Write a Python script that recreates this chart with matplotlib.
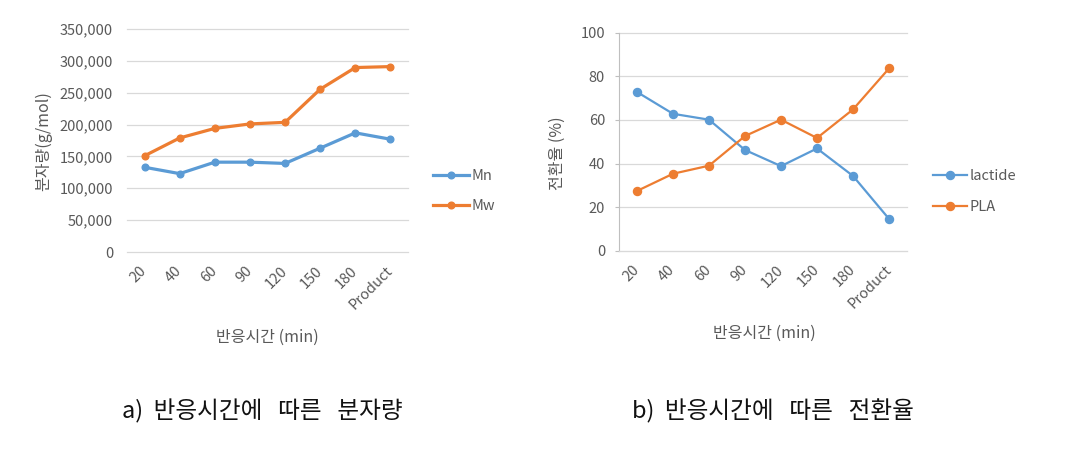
import matplotlib
matplotlib.use("Agg")
import matplotlib.pyplot as plt
from matplotlib.ticker import FuncFormatter

plt.rcParams['font.family'] = ['Noto Sans CJK KR', 'DejaVu Sans']

categories = ["20", "40", "60", "90", "120", "150", "180", "Product"]
mn = [133000, 123000, 141000, 141000, 139000, 163000, 187000, 177000]
mw = [151000, 179000, 194000, 201000, 203500, 255500, 289500, 291000]
lactide = [72.8, 62.8, 60.1, 46.2, 38.8, 46.9, 34.3, 14.6]
pla = [27.4, 35.3, 39.0, 52.6, 60.1, 51.7, 64.8, 83.6]

BLUE = "#5B9BD5"
ORANGE = "#ED7D31"
GRID = "#D9D9D9"
TXT = "#595959"

W, H = 1077, 449
fig = plt.figure(figsize=(W / 100, H / 100), dpi=100)

def fx(px):
    return px / W

def fy(py):
    return 1 - py / H

# ---- left chart ----
ax1 = fig.add_axes([fx(127), fy(252), fx(408) - fx(127), fy(29) - fy(252)])
x = list(range(len(categories)))
ax1.plot(x, mn, color=BLUE, lw=2.3, marker='o', ms=4.8, label="Mn")
ax1.plot(x, mw, color=ORANGE, lw=2.3, marker='o', ms=4.8, label="Mw")
ax1.set_ylim(0, 350000)
ax1.set_yticks(range(0, 350001, 50000))
ax1.yaxis.set_major_formatter(FuncFormatter(lambda v, p: f"{int(v):,}"))
ax1.set_xlim(-0.5, len(categories) - 0.5)
ax1.grid(axis='y', color=GRID, lw=0.9)
ax1.set_axisbelow(True)
for s in ax1.spines.values():
    s.set_visible(False)
ax1.tick_params(axis='y', length=0, pad=10, labelsize=10.5, labelcolor=TXT)

# ---- right chart ----
ax2 = fig.add_axes([fx(619), fy(250.7), fx(907) - fx(619), fy(32.7) - fy(250.7)])
ax2.plot(x, lactide, color=BLUE, lw=1.6, marker='o', ms=5.8, label="lactide")
ax2.plot(x, pla, color=ORANGE, lw=1.6, marker='o', ms=5.8, label="PLA")
ax2.set_ylim(0, 100)
ax2.set_yticks(range(0, 101, 20))
ax2.set_xlim(-0.5, len(categories) - 0.5)
ax2.grid(axis='y', color=GRID, lw=0.9)
ax2.set_axisbelow(True)
for k in ['top', 'right']:
    ax2.spines[k].set_visible(False)
ax2.spines['left'].set_color("#BFBFBF")
ax2.spines['bottom'].set_color(GRID)
ax2.tick_params(axis='y', length=3, color="#BFBFBF", pad=7, labelsize=10.5, labelcolor=TXT)

for ax in (ax1, ax2):
    ax.set_xticks(x)
    ax.set_xticklabels(categories)
    ax.tick_params(axis='x', length=0, pad=12, labelsize=10.5, labelcolor=TXT)
    for lab in ax.get_xticklabels():
        lab.set_rotation(45)
        lab.set_ha('right')
        lab.set_va('center')
        lab.set_rotation_mode('anchor')
    for gl in ax.get_ygridlines():
        gl.set_clip_on(False)

# axis labels
fig.text(fx(267), fy(337), "반응시간 (min)", ha='center', va='center', fontsize=11.5, color=TXT)
fig.text(fx(764), fy(333), "반응시간 (min)", ha='center', va='center', fontsize=11.5, color=TXT)
fig.text(fx(44), fy(141), "분자량(g/mol)", ha='center', va='center', rotation=90, fontsize=11.5, color=TXT)
fig.text(fx(557), fy(153), "전환율 (%)", ha='center', va='center', rotation=90, fontsize=11.5, color=TXT)

# legends
leg1 = ax1.legend(loc='center left', bbox_to_anchor=(fx(433), fy(191)), bbox_transform=fig.transFigure,
                  frameon=False, borderpad=0, borderaxespad=0, handlelength=2.45, handletextpad=0.2,
                  labelspacing=1.15, fontsize=10.5)
leg2 = ax2.legend(loc='center left', bbox_to_anchor=(fx(933), fy(191.5)), bbox_transform=fig.transFigure,
                  frameon=False, borderpad=0, borderaxespad=0, handlelength=2.3, handletextpad=0.2,
                  labelspacing=1.15, fontsize=10.5)
for leg in (leg1, leg2):
    for t in leg.get_texts():
        t.set_color(TXT)

# captions
fig.text(fx(122), fy(411), "a)  반응시간에   따른   분자량", ha='left', va='center', fontsize=17,
         color="#111111", fontweight='light')
fig.text(fx(632), fy(411), "b)  반응시간에   따른   전환율", ha='left', va='center', fontsize=17,
         color="#111111", fontweight='light')

fig.savefig("out.png", dpi=100)
